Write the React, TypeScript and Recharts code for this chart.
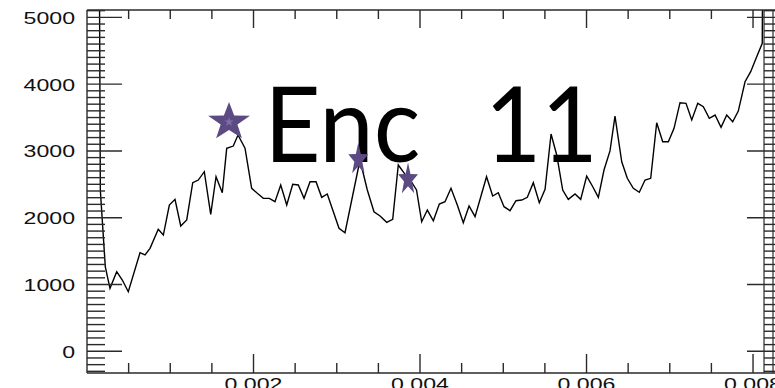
import { ComposedChart, Customized, Line, ReferenceLine, Scatter, XAxis, YAxis } from "recharts";

// time in units of 0.001 (axis labels divide by 1000)
const timeK = [
  0.138, 0.16, 0.22, 0.276, 0.357, 0.424, 0.496, 0.637, 0.697, 0.757,
  0.856, 0.917, 0.989, 1.057, 1.126, 1.198, 1.27, 1.337, 1.409, 1.486,
  1.55, 1.625, 1.678, 1.757, 1.814, 1.898, 1.978, 2.046, 2.118, 2.19,
  2.258, 2.327, 2.399, 2.471, 2.538, 2.607, 2.679, 2.751, 2.819, 2.886,
  2.959, 3.027, 3.099, 3.279, 3.367, 3.447, 3.52, 3.6, 3.672, 3.739,
  3.814, 3.886, 3.958, 4.02, 4.088, 4.16, 4.232, 4.3, 4.372, 4.448,
  4.52, 4.589, 4.661, 4.799, 4.873, 4.94, 5.009, 5.081, 5.153, 5.222,
  5.289, 5.361, 5.433, 5.502, 5.574, 5.642, 5.714, 5.781, 5.862, 5.93,
  6.002, 6.075, 6.142, 6.21, 6.282, 6.342, 6.423, 6.49, 6.562, 6.634,
  6.703, 6.771, 6.843, 6.915, 6.983, 7.051, 7.123, 7.195, 7.264, 7.336,
  7.403, 7.475, 7.544, 7.616, 7.684, 7.756, 7.823, 7.904, 7.972, 8.044,
  8.111, 8.126,
];

const counts = [
  9000, 2415, 1262, 943, 1192, 1067, 892, 1476, 1442, 1542,
  1826, 1741, 2190, 2275, 1876, 1966, 2524, 2564, 2689, 2051,
  2614, 2374, 3039, 3073, 3238, 3040, 2440, 2365, 2290, 2290,
  2240, 2490, 2190, 2500, 2490, 2290, 2539, 2539, 2305, 2355,
  2090, 1841, 1775, 2864, 2415, 2090, 2025, 1931, 1976, 2789,
  2660, 2560, 2415, 1940, 2115, 1955, 2205, 2240, 2440, 2190,
  1925, 2175, 2015, 2614, 2325, 2374, 2165, 2105, 2255, 2265,
  2305, 2524, 2225, 2425, 3253, 2939, 2415, 2275, 2355, 2275,
  2624, 2464, 2305, 2714, 3000, 3520, 2838, 2590, 2440, 2380,
  2564, 2590, 3422, 3138, 3138, 3338, 3722, 3713, 3463, 3713,
  3662, 3488, 3537, 3353, 3537, 3437, 3597, 4036, 4186, 4410,
  4611, 9000,
];

const bigStarT = [1.706];
const bigStarV = [3433];
const smallStarT = [3.259, 3.856];
const smallStarV = [2871, 2572];

const xTicks = Array.from({ length: 16 }, (_, i) => (i + 1) * 0.5);
const yTicks = Array.from({ length: 55 }, (_, i) => -300 + i * 100);

const lineData = timeK.map((t, i) => ({ t, v: counts[i] }));
const bigStars = bigStarT.map((t, i) => ({ t, v: bigStarV[i] }));
const smallStars = smallStarT.map((t, i) => ({ t, v: smallStarV[i] }));

const axisColor = "#2a2a2a";
const starColor = "#5c4a82";
const labelFont = "'Liberation Sans', Arial, sans-serif";

// glyphs in the reference are stretched sideways
function labelLength(s: string) {
  let w = 0;
  for (const c of s) w += c === "." ? 0.278 : 0.556;
  return w * 17 * 1.36;
}

function starPoints(cx: number, cy: number, rx: number, ry: number) {
  const pts: string[] = [];
  for (let i = 0; i < 10; i++) {
    const a = (-90 + i * 36) * (Math.PI / 180);
    const r = i % 2 === 0 ? 1 : 0.4;
    pts.push(`${cx + Math.cos(a) * rx * r},${cy + Math.sin(a) * ry * r}`);
  }
  return pts.join(" ");
}

function BigStar(props: any) {
  const { cx, cy } = props;
  return (
    <g>
      <polygon points={starPoints(cx, cy, 22, 20)} fill={starColor} />
      <polygon points={starPoints(cx, cy, 5, 5)} fill="#7e6cab" />
    </g>
  );
}

function SmallStar(props: any) {
  const { cx, cy } = props;
  return <polygon points={starPoints(cx, cy, 10.5, 17)} fill={starColor} />;
}

function BottomTick(props: any) {
  const { x, y, payload } = props;
  const major = payload.value % 2 === 0;
  const label = (payload.value / 1000).toFixed(3);
  return (
    <g>
      <line x1={x} x2={x} y1={y} y2={y - (major ? 19 : 10)} stroke={axisColor} strokeWidth={1.4} />
      {major && (
        <text x={x} y={y + 17} textAnchor="middle" fontFamily={labelFont} fontSize={17} fill="#111"
          textLength={labelLength(label)} lengthAdjust="spacingAndGlyphs">
          {label}
        </text>
      )}
    </g>
  );
}

function TopTick(props: any) {
  const { x, y, payload } = props;
  const major = payload.value % 2 === 0;
  return <line x1={x} x2={x} y1={y} y2={y + (major ? 18 : 9)} stroke={axisColor} strokeWidth={1.4} />;
}

function LeftTick(props: any) {
  const { x, y, payload } = props;
  const major = payload.value % 1000 === 0;
  const label = String(payload.value);
  return (
    <g>
      <line x1={x} x2={x + (major ? 35 : 18)} y1={y} y2={y} stroke={axisColor} strokeWidth={1.4} />
      {major && (
        <text x={x - 12} y={y + 6.5} textAnchor="end" fontFamily={labelFont} fontSize={17} fill="#111"
          textLength={labelLength(label)} lengthAdjust="spacingAndGlyphs">
          {label}
        </text>
      )}
    </g>
  );
}

function RightTick(props: any) {
  const { x, y, payload } = props;
  const major = payload.value % 1000 === 0;
  return <line x1={x} x2={x - (major ? 35 : 18)} y1={y} y2={y} stroke={axisColor} strokeWidth={1.4} />;
}

function Title() {
  return (
    <g transform="translate(268,162) scale(0.93,1)">
      <text y={0} fontFamily="Lato, 'Open Sans', sans-serif" fontSize={105} fill="#000">
        <tspan x={-4}>Enc</tspan>
        <tspan x={233}>11</tspan>
      </text>
    </g>
  );
}

export default function App() {
  return (
    <div style={{ width: 775, height: 388, overflow: "hidden", background: "#fff" }}>
      <style>{"body{margin:0}"}</style>
      <ComposedChart width={790} height={388} margin={{ top: 0, right: 0, bottom: 0, left: 0 }}>
        <XAxis dataKey="t" type="number" domain={[0, 8.348]} allowDataOverflow ticks={xTicks}
          height={15} tickSize={0} tickMargin={0} tickLine={false} interval={0}
          axisLine={{ stroke: axisColor, strokeWidth: 1.4 }} tick={<BottomTick />} />
        <XAxis xAxisId="top" orientation="top" dataKey="t" type="number" domain={[0, 8.348]} allowDataOverflow
          ticks={xTicks} height={10} tickSize={0} tickMargin={0} tickLine={false} interval={0}
          axisLine={{ stroke: axisColor, strokeWidth: 1.4 }} tick={<TopTick />} />
        <YAxis yAxisId="left" type="number" domain={[-325, 5110]} allowDataOverflow ticks={yTicks}
          width={87} tickSize={0} tickMargin={0} tickLine={false} interval={0}
          axisLine={{ stroke: axisColor, strokeWidth: 1.4 }} tick={<LeftTick />} />
        <YAxis yAxisId="right" orientation="right" type="number" domain={[-325, 5110]} allowDataOverflow
          ticks={yTicks} width={8} tickSize={0} tickMargin={0} tickLine={false} interval={0}
          axisLine={{ stroke: axisColor, strokeWidth: 1.4 }} tick={<RightTick />} />
        <ReferenceLine x={8.132} yAxisId="left" stroke={axisColor} strokeWidth={1.2} />
        <ReferenceLine x={8.24} yAxisId="left" stroke={axisColor} strokeWidth={1.2} />
        <Line data={lineData} yAxisId="left" dataKey="v" type="linear" stroke="#000" strokeWidth={1.4}
          dot={false} isAnimationActive={false} />
        <Customized component={Title} />
        <Scatter data={bigStars} yAxisId="left" dataKey="v" shape={BigStar} isAnimationActive={false} />
        <Scatter data={smallStars} yAxisId="left" dataKey="v" shape={SmallStar} isAnimationActive={false} />
      </ComposedChart>
    </div>
  );
}
